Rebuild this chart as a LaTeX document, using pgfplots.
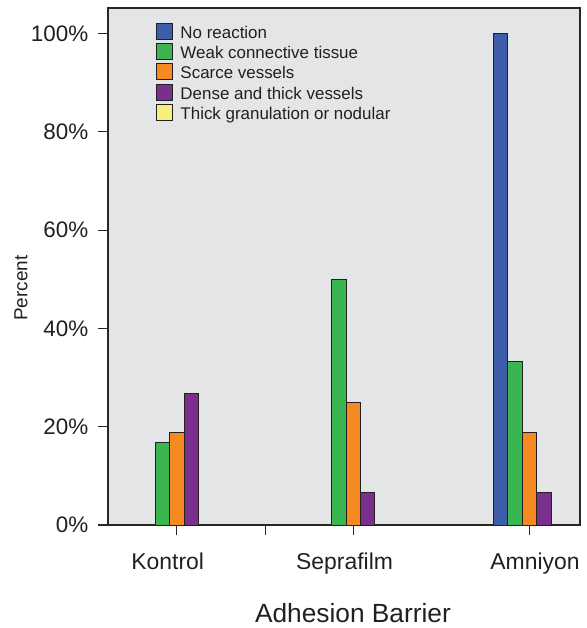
\documentclass[border=0pt]{standalone}
\usepackage{fontspec}
\setmainfont{Liberation Sans}
\usepackage{pgfplots}
\pgfplotsset{compat=1.18}
\definecolor{cblue}{HTML}{3D5DAA}
\definecolor{cgreen}{HTML}{3AB54F}
\definecolor{corange}{HTML}{F58A22}
\definecolor{cpurple}{HTML}{7B2F8C}
\definecolor{cyellow}{HTML}{F5F07B}
\definecolor{cbg}{HTML}{E4E5E7}
\definecolor{cedge}{HTML}{231F20}
\definecolor{ctext}{HTML}{231F20}
\pgfplotsset{
  sqleg/.style={legend image code/.code={\draw[##1,draw=cedge,line width=0.8bp] (0bp,-1bp) rectangle (16bp,15bp);}},
  mybar/.style={ybar, bar width=0.1644, draw=cedge, line width=0.9bp, fill=#1, sqleg},
}
\begin{document}
\begin{tikzpicture}
\begin{axis}[
  scale only axis, width=472bp, height=517bp,
  xmin=-0.782, xmax=4.573, ymin=0, ymax=105.2,
  axis background/.style={fill=cbg},
  axis line style={draw=black!85, line width=1.1bp},
  tick align=outside, xtick pos=lower, ytick pos=left,
  major tick length=9.5bp,
  every tick/.style={draw=black!85, line width=1.1bp},
  xtick={0,1,2,4}, xticklabels={},
  extra x ticks={-0.104,1.902,4.062},
  extra x tick labels={Kontrol,Seprafilm,Amniyon},
  extra x tick style={major tick length=0pt, xticklabel style={anchor=base, yshift=-44bp, font=\fontsize{23}{27}\selectfont}},
  ytick={0,20,40,60,80,100},
  yticklabels={0\%,20\%,40\%,60\%,80\%,100\%},
  yticklabel style={anchor=east, inner sep=0pt, xshift=-10bp, font=\fontsize{22.5}{26}\selectfont},
  tick label style={text=ctext},
  ylabel={Percent}, xlabel={Adhesion Barrier},
  every axis y label/.style={at={(rel axis cs:-0.1845,0.458)}, rotate=90, anchor=center, inner sep=0pt, font=\fontsize{19}{23}\selectfont, text=ctext},
  every axis x label/.style={at={(rel axis cs:0.519,-0.189)}, anchor=base, font=\fontsize{26.4}{30}\selectfont, text=ctext},
  legend style={at={(0.1017,0.972)}, anchor=north west, draw=none, fill=none, inner sep=0pt,
    font=\fontsize{17}{20}\selectfont, text=ctext, row sep=0pt,
    nodes={inner sep=0pt, text height=14bp, text depth=5bp, anchor=base west}},
  legend cell align=left,
  /tikz/every odd column/.append style={column sep=7.5bp},
]
\addplot[mybar=cblue, bar shift=-0.3288] coordinates {(4,100)};
\addlegendentry{No reaction}
\addplot[mybar=cgreen, bar shift=-0.1644] coordinates {(0,16.7) (2,50) (4,33.3)};
\addlegendentry{Weak connective tissue}
\addplot[mybar=corange, bar shift=0] coordinates {(0,18.75) (2,25) (4,18.75)};
\addlegendentry{Scarce vessels}
\addplot[mybar=cpurple, bar shift=0.1644] coordinates {(0,26.7) (2,6.7) (4,6.7)};
\addlegendentry{Dense and thick vessels}
\addlegendimage{mybar=cyellow}
\addlegendentry{Thick granulation or nodular}
\coordinate (bbl) at (rel axis cs:-0.2288,-0.1992);
\coordinate (btr) at (rel axis cs:1.0148,1.01547);
\end{axis}
\pgfresetboundingbox
\useasboundingbox (bbl) rectangle (btr);
\end{tikzpicture}
\end{document}
